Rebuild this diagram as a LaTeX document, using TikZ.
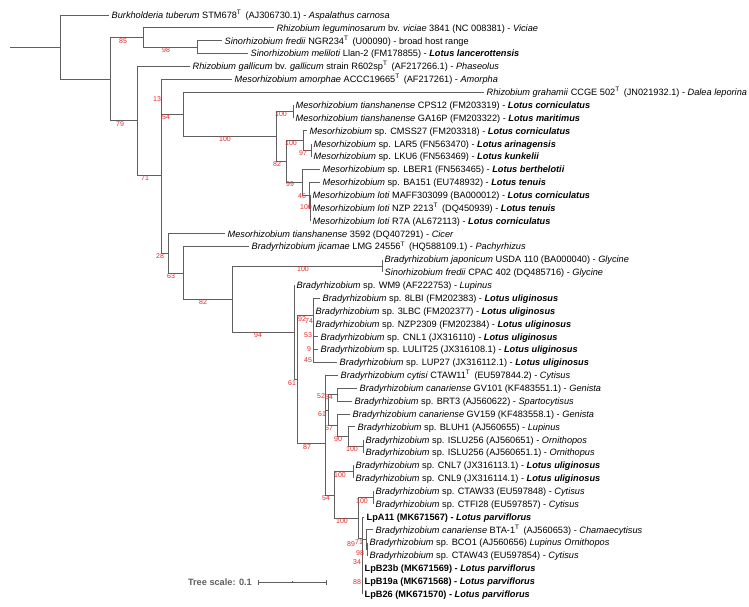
\documentclass[tikz,border=0pt]{standalone}
\usepackage{fontspec}
\setmainfont{Liberation Sans}
\usepackage{xcolor}
\usepackage{tikz}
\definecolor{treegray}{RGB}{95,95,95}
\definecolor{bootred}{RGB}{232,40,40}
\newcommand{\typeT}{\textsuperscript{T}\,}
\newcommand{\lotushost}[1]{\textbf{\textit{Lotus #1}}}

\begin{document}
\begin{tikzpicture}[x=1pt,y=-1pt,
  branch/.style={draw=treegray,line width=0.8pt},
  leaf/.style={anchor=base west,inner sep=0pt,xshift=2.5pt,yshift=-3.3pt,font=\fontsize{9.2}{11}\selectfont},
  boot/.style={text=bootred,inner sep=0pt,font=\fontsize{7}{8}\selectfont},
  scalebar/.style={draw=treegray,line width=0.8pt}]
\useasboundingbox (0,0) rectangle (749,607);

% leaf tips
\coordinate (l1) at (109,15.00);
\coordinate (l2) at (274,27.87);
\coordinate (l3) at (222,40.74);
\coordinate (l4) at (248,53.61);
\coordinate (l5) at (190,66.48);
\coordinate (l6) at (232,79.35);
\coordinate (l7) at (484,92.22);
\coordinate (l8) at (293,105.09);
\coordinate (l9) at (293,117.96);
\coordinate (l10) at (307,130.83);
\coordinate (l11) at (311,143.70);
\coordinate (l12) at (311,156.57);
\coordinate (l13) at (320,169.44);
\coordinate (l14) at (320,182.31);
\coordinate (l15) at (310,195.18);
\coordinate (l16) at (310,208.05);
\coordinate (l17) at (310,220.92);
\coordinate (l18) at (225,233.79);
\coordinate (l19) at (249,246.66);
\coordinate (l20) at (382,259.53);
\coordinate (l21) at (382,272.40);
\coordinate (l22) at (294,285.27);
\coordinate (l23) at (320,298.14);
\coordinate (l24) at (313,311.01);
\coordinate (l25) at (313,323.88);
\coordinate (l26) at (318,336.75);
\coordinate (l27) at (318,349.62);
\coordinate (l28) at (337,362.49);
\coordinate (l29) at (338,375.36);
\coordinate (l30) at (357,388.23);
\coordinate (l31) at (352,401.10);
\coordinate (l32) at (350,413.97);
\coordinate (l33) at (355,426.84);
\coordinate (l34) at (363,439.71);
\coordinate (l35) at (363,452.58);
\coordinate (l36) at (353,465.45);
\coordinate (l37) at (353,478.32);
\coordinate (l38) at (373,491.19);
\coordinate (l39) at (373,504.06);
\coordinate (l40) at (364,516.93);
\coordinate (l41) at (373,529.80);
\coordinate (l42) at (367,542.67);
\coordinate (l43) at (367,555.54);
\coordinate (l44) at (362,568.41);
\coordinate (l45) at (362,581.28);
\coordinate (l46) at (362,594.15);

% inner nodes
\coordinate (root) at (10,47.08);
\coordinate (A) at (60,47.08);
\coordinate (B) at (110,79.16);
\coordinate (C) at (143,37.52);
\coordinate (E) at (197,47.18);
\coordinate (D) at (137,120.80);
\coordinate (F) at (161,175.11);
\coordinate (G) at (161,96.85);
\coordinate (I) at (183,114.35);
\coordinate (J) at (276,136.47);
\coordinate (K) at (293,111.53);
\coordinate (L) at (286,161.40);
\coordinate (M) at (303,140.48);
\coordinate (N) at (311,150.14);
\coordinate (P) at (302,182.31);
\coordinate (Q) at (309,195.18);
\coordinate (R) at (310,208.05);
\coordinate (H) at (168,253.37);
\coordinate (S) at (183,272.94);
\coordinate (T) at (232,299.22);
\coordinate (U) at (382,265.97);
\coordinate (V) at (294,332.47);
\coordinate (X) at (297,379.67);
\coordinate (Y) at (313,315.50);
\coordinate (Z1) at (313,318.00);
\coordinate (Z2) at (313,335.14);
\coordinate (Z3) at (313,346.40);
\coordinate (Z4) at (313,356.06);
\coordinate (W) at (325,443.84);
\coordinate (W1) at (325,392.66);
\coordinate (W1a) at (328,409.95);
\coordinate (W1b) at (337,394.67);
\coordinate (W1c) at (337,425.23);
\coordinate (W1d) at (348,436.49);
\coordinate (W1e) at (363,446.15);
\coordinate (W2) at (334,495.02);
\coordinate (W2a) at (353,471.89);
\coordinate (AA) at (358,518.14);
\coordinate (AAa) at (373,497.63);
\coordinate (AB) at (362,538.65);
\coordinate (AC) at (362,560.37);
\coordinate (AD) at (366,539.46);
\coordinate (ADa) at (367,549.11);
\coordinate (AE) at (362,581.28);

% branches
\draw[branch] (root) -- (A);
\draw[branch] (A) |- (l1) (A) |- (B);
\draw[branch] (B) |- (C) (B) |- (D);
\draw[branch] (C) |- (l2) (C) |- (E);
\draw[branch] (E) |- (l3) (E) |- (l4);
\draw[branch] (D) |- (l5) (D) |- (F);
\draw[branch] (F) |- (G) (F) |- (H);
\draw[branch] (G) |- (l6) (G) |- (I);
\draw[branch] (I) |- (l7) (I) |- (J);
\draw[branch] (J) |- (K) (J) |- (L);
\draw[branch] (K) |- (l8) (K) |- (l9);
\draw[branch] (L) |- (M) (L) |- (P);
\draw[branch] (M) |- (l10) (M) |- (N);
\draw[branch] (N) |- (l11) (N) |- (l12);
\draw[branch] (P) |- (l13) (P) |- (Q);
\draw[branch] (Q) |- (l14) (Q) |- (R);
\draw[branch] (R) |- (l15) (R) |- (l16) (R) |- (l17);
\draw[branch] (H) |- (l18) (H) |- (S);
\draw[branch] (S) |- (l19) (S) |- (T);
\draw[branch] (T) |- (U) (T) |- (V);
\draw[branch] (U) |- (l20) (U) |- (l21);
\draw[branch] (V) |- (l22) (V) |- (X);
\draw[branch] (X) |- (Y) (X) |- (W);
\draw[branch] (Y) |- (l23) (Y) |- (Z1);
\draw[branch] (Z1) |- (l24) (Z1) |- (Z2);
\draw[branch] (Z2) |- (l25) (Z2) |- (Z3);
\draw[branch] (Z3) |- (l26) (Z3) |- (Z4);
\draw[branch] (Z4) |- (l27) (Z4) |- (l28);
\draw[branch] (W) |- (W1) (W) |- (W2);
\draw[branch] (W1) |- (l29) (W1) |- (W1a);
\draw[branch] (W1a) |- (W1b) (W1a) |- (W1c);
\draw[branch] (W1b) |- (l30) (W1b) |- (l31);
\draw[branch] (W1c) |- (l32) (W1c) |- (W1d);
\draw[branch] (W1d) |- (l33) (W1d) |- (W1e);
\draw[branch] (W1e) |- (l34) (W1e) |- (l35);
\draw[branch] (W2) |- (W2a) (W2) |- (AA);
\draw[branch] (W2a) |- (l36) (W2a) |- (l37);
\draw[branch] (AA) |- (AAa) (AA) |- (AB);
\draw[branch] (AAa) |- (l38) (AAa) |- (l39);
\draw[branch] (AB) |- (l40) (AB) |- (AC);
\draw[branch] (AC) |- (AD) (AC) |- (AE);
\draw[branch] (AD) |- (l41) (AD) |- (ADa);
\draw[branch] (ADa) |- (l42) (ADa) |- (l43);
\draw[branch] (AE) |- (l44) (AE) |- (l45) (AE) |- (l46);

% leaf labels
\node[leaf] (t1) at (l1) {\textit{Burkholderia tuberum} STM678\typeT{} (AJ306730.1) - \textit{Aspalathus carnosa}};
\node[leaf] (t2) at (l2) {\textit{Rhizobium leguminosarum} bv. \textit{viciae} 3841 (NC 008381) - \textit{Viciae}};
\node[leaf] (t3) at (l3) {\textit{Sinorhizobium fredii} NGR234\typeT{} (U00090) - broad host range};
\node[leaf] (t4) at (l4) {\textit{Sinorhizobium meliloti} Llan-2 (FM178855) - \lotushost{lancerottensis}};
\node[leaf] (t5) at (l5) {\textit{Rhizobium gallicum} bv. \textit{gallicum} strain R602sp\typeT{} (AF217266.1) - \textit{Phaseolus}};
\node[leaf] (t6) at (l6) {\textit{Mesorhizobium amorphae} ACCC19665\typeT{} (AF217261) - \textit{Amorpha}};
\node[leaf] (t7) at (l7) {\textit{Rhizobium grahamii} CCGE 502\typeT{} (JN021932.1) - \textit{Dalea leporina}};
\node[leaf] (t8) at (l8) {\textit{Mesorhizobium tianshanense} CPS12 (FM203319) - \lotushost{corniculatus}};
\node[leaf] (t9) at (l9) {\textit{Mesorhizobium tianshanense} GA16P (FM203322) - \lotushost{maritimus}};
\node[leaf] (t10) at (l10) {\textit{Mesorhizobium} sp. CMSS27 (FM203318) - \lotushost{corniculatus}};
\node[leaf] (t11) at (l11) {\textit{Mesorhizobium} sp. LAR5 (FN563470) - \lotushost{arinagensis}};
\node[leaf] (t12) at (l12) {\textit{Mesorhizobium} sp. LKU6 (FN563469) - \lotushost{kunkelii}};
\node[leaf] (t13) at (l13) {\textit{Mesorhizobium} sp. LBER1 (FN563465) - \lotushost{berthelotii}};
\node[leaf] (t14) at (l14) {\textit{Mesorhizobium} sp. BA151 (EU748932) - \lotushost{tenuis}};
\node[leaf] (t15) at (l15) {\textit{Mesorhizobium loti} MAFF303099 (BA000012) - \lotushost{corniculatus}};
\node[leaf] (t16) at (l16) {\textit{Mesorhizobium loti} NZP 2213\typeT{} (DQ450939) - \lotushost{tenuis}};
\node[leaf] (t17) at (l17) {\textit{Mesorhizobium loti} R7A (AL672113) - \lotushost{corniculatus}};
\node[leaf] (t18) at (l18) {\textit{Mesorhizobium tianshanense} 3592 (DQ407291) - \textit{Cicer}};
\node[leaf] (t19) at (l19) {\textit{Bradyrhizobium jicamae} LMG 24556\typeT{} (HQ588109.1) - \textit{Pachyrhizus}};
\node[leaf] (t20) at (l20) {\textit{Bradyrhizobium japonicum} USDA 110 (BA000040) - \textit{Glycine}};
\node[leaf] (t21) at (l21) {\textit{Sinorhizobium fredii} CPAC 402 (DQ485716) - \textit{Glycine}};
\node[leaf] (t22) at (l22) {\textit{Bradyrhizobium} sp. WM9 (AF222753) - \textit{Lupinus}};
\node[leaf] (t23) at (l23) {\textit{Bradyrhizobium} sp. 8LBI (FM202383) - \lotushost{uliginosus}};
\node[leaf] (t24) at (l24) {\textit{Bradyrhizobium} sp. 3LBC (FM202377) - \lotushost{uliginosus}};
\node[leaf] (t25) at (l25) {\textit{Bradyrhizobium} sp. NZP2309 (FM202384) - \lotushost{uliginosus}};
\node[leaf] (t26) at (l26) {\textit{Bradyrhizobium} sp. CNL1 (JX316110) - \lotushost{uliginosus}};
\node[leaf] (t27) at (l27) {\textit{Bradyrhizobium} sp. LULIT25 (JX316108.1) - \lotushost{uliginosus}};
\node[leaf] (t28) at (l28) {\textit{Bradyrhizobium} sp. LUP27 (JX316112.1) - \lotushost{uliginosus}};
\node[leaf] (t29) at (l29) {\textit{Bradyrhizobium cytisi} CTAW11\typeT{} (EU597844.2) - \textit{Cytisus}};
\node[leaf] (t30) at (l30) {\textit{Bradyrhizobium canariense} GV101 (KF483551.1) - \textit{Genista}};
\node[leaf] (t31) at (l31) {\textit{Bradyrhizobium} sp. BRT3 (AJ560622) - \textit{Spartocytisus}};
\node[leaf] (t32) at (l32) {\textit{Bradyrhizobium canariense} GV159 (KF483558.1) - \textit{Genista}};
\node[leaf] (t33) at (l33) {\textit{Bradyrhizobium} sp. BLUH1 (AJ560655) - \textit{Lupinus}};
\node[leaf] (t34) at (l34) {\textit{Bradyrhizobium} sp. ISLU256 (AJ560651) - \textit{Ornithopos}};
\node[leaf] (t35) at (l35) {\textit{Bradyrhizobium} sp. ISLU256 (AJ560651.1) - \textit{Ornithopus}};
\node[leaf] (t36) at (l36) {\textit{Bradyrhizobium} sp. CNL7 (JX316113.1) - \lotushost{uliginosus}};
\node[leaf] (t37) at (l37) {\textit{Bradyrhizobium} sp. CNL9 (JX316114.1) - \lotushost{uliginosus}};
\node[leaf] (t38) at (l38) {\textit{Bradyrhizobium} sp. CTAW33 (EU597848) - \textit{Cytisus}};
\node[leaf] (t39) at (l39) {\textit{Bradyrhizobium} sp. CTFI28 (EU597857) - \textit{Cytisus}};
\node[leaf] (t40) at (l40) {\textbf{LpA11 (MK671567) - \textit{Lotus parviflorus}}};
\node[leaf] (t41) at (l41) {\textit{Bradyrhizobium canariense} BTA-1\typeT{} (AJ560653) - \textit{Chamaecytisus}};
\node[leaf] (t42) at (l42) {\textit{Bradyrhizobium} sp. BCO1 (AJ560656) \textit{Lupinus Ornithopos}};
\node[leaf] (t43) at (l43) {\textit{Bradyrhizobium} sp. CTAW43 (EU597854) - \textit{Cytisus}};
\node[leaf] (t44) at (l44) {\textbf{LpB23b (MK671569) - \textit{Lotus parviflorus}}};
\node[leaf] (t45) at (l45) {\textbf{LpB19a (MK671568) - \textit{Lotus parviflorus}}};
\node[leaf] (t46) at (l46) {\textbf{LpB26 (MK671570) - \textit{Lotus parviflorus}}};

% bootstrap values
\node[boot] (b1) at (123,41) {85};
\node[boot] (b2) at (166,50) {98};
\node[boot] (b3) at (120,124) {79};
\node[boot] (b4) at (157,99) {13};
\node[boot] (b5) at (166,117) {54};
\node[boot] (b6) at (145,178) {71};
\node[boot] (b7) at (225,139) {100};
\node[boot] (b8) at (281,114) {100};
\node[boot] (b9) at (277,164) {82};
\node[boot] (b10) at (291,143) {100};
\node[boot] (b11) at (303,153) {97};
\node[boot] (b12) at (290,184) {99};
\node[boot] (b13) at (302,196) {46};
\node[boot] (b14) at (306,207) {100};
\node[boot] (b15) at (160,256) {28};
\node[boot] (b16) at (171,276) {63};
\node[boot] (b17) at (203,302) {82};
\node[boot] (b18) at (303,269) {100};
\node[boot] (b19) at (258,335) {94};
\node[boot] (b20) at (302,319) {92};
\node[boot] (b21) at (309,321) {74};
\node[boot] (b22) at (308,335) {53};
\node[boot] (b23) at (309,349) {9};
\node[boot] (b24) at (308,360) {45};
\node[boot] (b25) at (292,383) {61};
\node[boot] (b26) at (321,396) {52};
\node[boot] (b27) at (329,397) {54};
\node[boot] (b28) at (322,414) {61};
\node[boot] (b29) at (329,428) {57};
\node[boot] (b30) at (338,439) {90};
\node[boot] (b31) at (352,449) {100};
\node[boot] (b32) at (307,447) {87};
\node[boot] (b33) at (340,475) {100};
\node[boot] (b34) at (326,498) {54};
\node[boot] (b35) at (362,501) {100};
\node[boot] (b36) at (342,521) {100};
\node[boot] (b37) at (351,544) {89};
\node[boot] (b38) at (359,542) {71};
\node[boot] (b39) at (360,553) {98};
\node[boot] (b40) at (357,562) {34};
\node[boot] (b41) at (357,582) {88};

% tree scale
\coordinate (s1) at (258,582);
\coordinate (s2) at (326,582);
\coordinate (s3) at (292,582);
\draw[scalebar] (s1) -- (s2);
\draw[scalebar] ([yshift=2.5pt]s1) -- ([yshift=-2.5pt]s1);
\draw[scalebar] ([yshift=2.5pt]s2) -- ([yshift=-2.5pt]s2);
\draw[scalebar] ([yshift=1.5pt]s3) -- (s3);
\node[anchor=east,inner sep=0pt,text=treegray,font=\fontsize{9.2}{11}\selectfont\bfseries] (scale) at (252,582) {Tree scale: 0.1};
\end{tikzpicture}
\end{document}
